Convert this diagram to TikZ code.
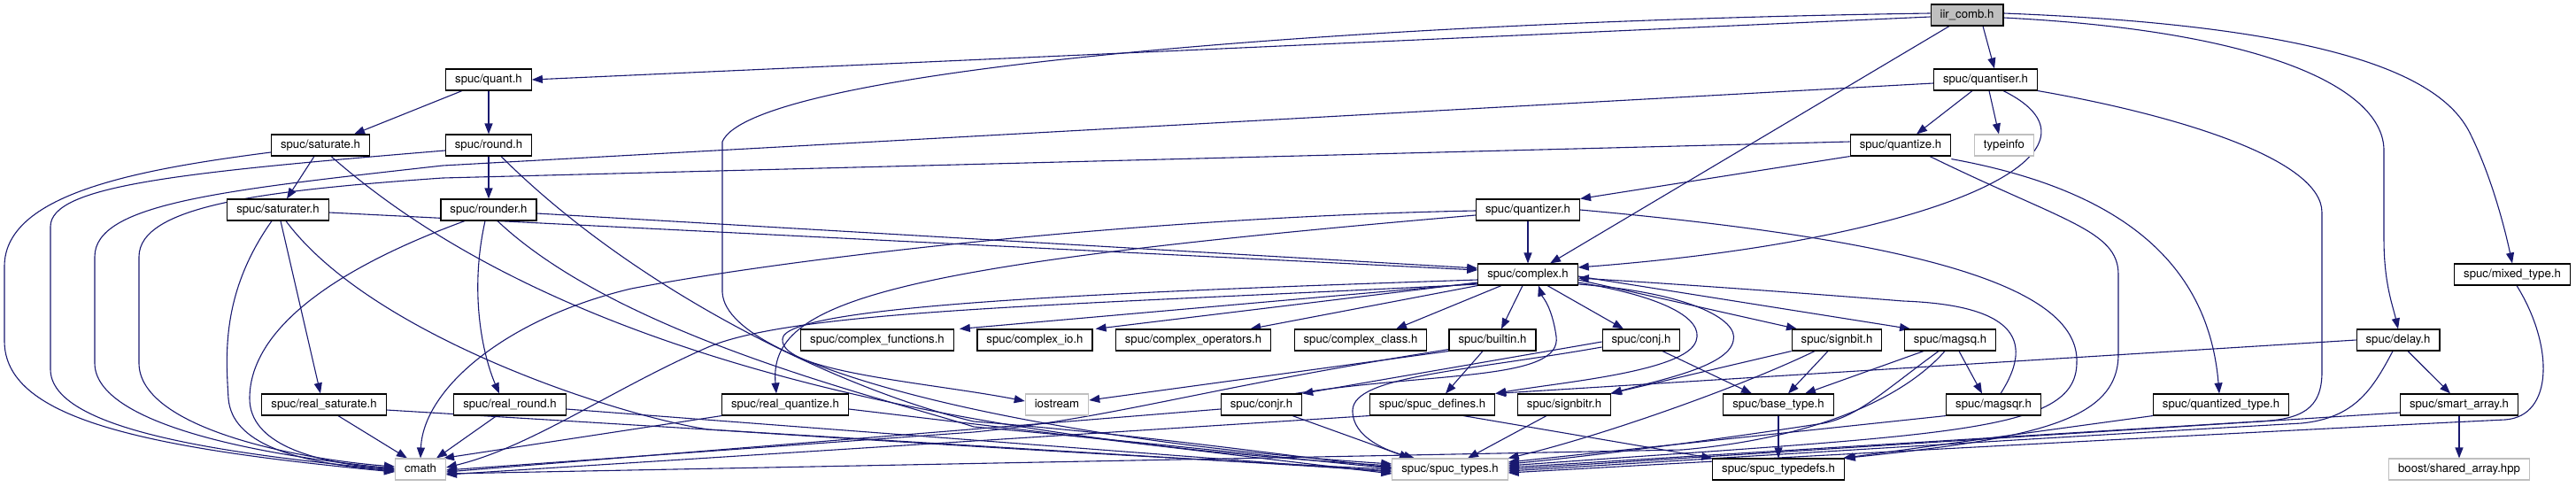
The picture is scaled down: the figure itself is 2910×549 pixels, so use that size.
\documentclass[tikz,border=0pt]{standalone}
\usepackage{fontspec}
\setmainfont{TeX Gyre Heros}
\usetikzlibrary{arrows.meta}
\definecolor{edgeblue}{HTML}{191970}
\definecolor{extgray}{HTML}{BFBFBF}
\definecolor{rootgray}{HTML}{BFBFBF}
\pgfdeclarelayer{edges}
\pgfsetlayers{edges,main}
\newcommand{\hdrfont}{\fontsize{13.2}{15}\selectfont}
\tikzset{
    hdr/.style={draw=black, line width=1.1pt, fill=white, font=\hdrfont,
      inner xsep=10.5pt, inner ysep=0pt, minimum height=24pt,
      text height=9.6pt, text depth=2.9pt},
    extern/.style={hdr, draw=extgray},
    root/.style={hdr, fill=rootgray},
    incl/.style={draw=edgeblue, line width=1.1pt, -{Triangle[length=12pt,width=9pt]}}
  }
\begin{document}
\begin{tikzpicture}[x=1pt,y=-1pt]
    \useasboundingbox (0,0) rectangle (2910,549);

    \node[root] (iir) at (2222,17) {iir\_comb.h};

    \node[hdr] (quant) at (552,90) {spuc/quant.h};
    \node[hdr] (quantiser) at (2243,90) {spuc/quantiser.h};

    \node[hdr] (saturate) at (362,164) {spuc/saturate.h};
    \node[hdr] (round) at (552,164) {spuc/round.h};
    \node[hdr] (quantize) at (2147,164) {spuc/quantize.h};
    \node[extern] (typeinfo) at (2264,164) {typeinfo};

    \node[hdr] (saturater) at (314,237) {spuc/saturater.h};
    \node[hdr] (rounder) at (552,237) {spuc/rounder.h};
    \node[hdr] (quantizer) at (1726,237) {spuc/quantizer.h};

    \node[hdr] (complex) at (1726,310) {spuc/complex.h};
    \node[hdr] (mixed) at (2838,310) {spuc/mixed\_type.h};

    \node[hdr] (cfunc) at (991,384) {spuc/complex\_functions.h};
    \node[hdr] (cio) at (1169,384) {spuc/complex\_io.h};
    \node[hdr] (cops) at (1348,384) {spuc/complex\_operators.h};
    \node[hdr] (cclass) at (1537,384) {spuc/complex\_class.h};
    \node[hdr] (builtin) at (1686,384) {spuc/builtin.h};
    \node[hdr] (conj) at (1854,384) {spuc/conj.h};
    \node[hdr] (signbit) at (2075,384) {spuc/signbit.h};
    \node[hdr] (magsq) at (2203,384) {spuc/magsq.h};
    \node[hdr] (delay) at (2709,384) {spuc/delay.h};

    \node[hdr] (realsat) at (366,457) {spuc/real\_saturate.h};
    \node[hdr] (realround) at (576,457) {spuc/real\_round.h};
    \node[hdr] (realquant) at (887,457) {spuc/real\_quantize.h};
    \node[extern] (iostream) at (1194,457) {iostream};
    \node[hdr] (conjr) at (1425,457) {spuc/conjr.h};
    \node[hdr] (defines) at (1618,457) {spuc/spuc\_defines.h};
    \node[hdr] (signbitr) at (1767,457) {spuc/signbitr.h};
    \node[hdr] (basetype) at (2009,457) {spuc/base\_type.h};
    \node[hdr] (magsqr) at (2252,457) {spuc/magsqr.h};
    \node[hdr] (qtype) at (2509,457) {spuc/quantized\_type.h};
    \node[hdr] (smart) at (2778,457) {spuc/smart\_array.h};

    \node[extern] (cmath) at (475,530) {cmath};
    \node[extern] (types) at (1638,530) {spuc/spuc\_types.h};
    \node[hdr] (typedefs) at (2009,530) {spuc/spuc\_typedefs.h};
    \node[extern] (boost) at (2778,530) {boost/shared\_array.hpp};

    \begin{pgfonlayer}{edges}
    \draw[incl] ([yshift=-2pt]iir.west) -- (quant.east);
    \draw[incl] ([yshift=2pt]iir.west) .. controls (1500,25) and (850,80) .. (816,160) -- (816,330) .. controls (820,420) and (1200,500) .. ([yshift=6pt]types.west);
    \draw[incl] ([xshift=-20pt]iir.south) -- ([xshift=25pt]complex.north);
    \draw[incl] ([xshift=18pt]iir.south) -- ([xshift=10pt]quantiser.north);
    \draw[incl] ([yshift=-3pt]iir.east) .. controls (2560,35) and (2693,100) .. (2693,170) -- (2693,270) .. controls (2693,320) and (2703,345) .. (delay.north);
    \draw[incl] ([yshift=2pt]iir.east) .. controls (2650,30) and (2760,90) .. (2790,150) .. controls (2815,200) and (2830,260) .. (mixed.north);

    \draw[incl] ([xshift=-30pt]quant.south) -- ([xshift=38pt]saturate.north);
    \draw[incl] (quant.south) -- (round.north);

    \draw[incl] ([yshift=-8pt]saturate.west) .. controls (150,192) and (5,220) .. (5,301) -- (5,385) .. controls (5,470) and (150,505) .. ([yshift=-3pt]cmath.west);
    \draw[incl] ([xshift=-7pt]saturate.south) -- ([xshift=10pt]saturater.north);
    \draw[incl] ([xshift=12pt]saturate.south) .. controls (560,340) and (900,485) .. ([yshift=4pt]types.west);

    \draw[incl] ([yshift=-6pt]round.west) .. controls (200,195) and (57,210) .. (57,256) -- (57,417) .. controls (57,485) and (250,512) .. ([yshift=-1pt]cmath.west);
    \draw[incl] (round.south) -- (rounder.north);
    \draw[incl] ([xshift=14pt]round.south) .. controls (720,330) and (950,440) .. (1100,476) .. controls (1300,492) and (1480,518) .. ([yshift=2pt]types.west);

    \draw[incl] ([yshift=-3pt]saturater.east) -- ([yshift=5pt]complex.west);
    \draw[incl] ([xshift=-7pt]saturater.south) .. controls (250,330) and (255,400) .. (258,450) .. controls (262,500) and (330,522) .. ([yshift=-2pt]cmath.west);
    \draw[incl] ([xshift=3pt]saturater.south) -- ([xshift=-4pt]realsat.north);
    \draw[incl] ([xshift=9pt]saturater.south) .. controls (420,380) and (700,470) .. (800,485) .. controls (1100,505) and (1400,522) .. ([yshift=0pt]types.west);

    \draw[incl] ([yshift=-4pt]rounder.east) -- ([yshift=7pt]complex.west);
    \draw[incl] ([xshift=-27pt]rounder.south) .. controls (360,310) and (282,380) .. (282,450) .. controls (282,500) and (350,522) .. ([yshift=0pt]cmath.west);
    \draw[incl] ([xshift=-4pt]rounder.south) .. controls (530,330) and (545,400) .. ([xshift=-12pt]realround.north);
    \draw[incl] ([xshift=10pt]rounder.south) .. controls (700,380) and (1000,450) .. (1100,482) .. controls (1300,500) and (1480,520) .. ([yshift=1pt]types.west);

    \draw[incl] ([xshift=16pt]realsat.south) -- ([xshift=-15pt]cmath.north);
    \draw[incl] ([yshift=-6pt]realsat.east) -- ([yshift=-2pt]types.west);
    \draw[incl] ([xshift=-15pt]realround.south) -- ([xshift=18pt]cmath.north);
    \draw[incl] ([yshift=-5pt]realround.east) -- ([yshift=-3pt]types.west);
    \draw[incl] (realquant.south west) -- ([xshift=-3pt]cmath.north east);
    \draw[incl] ([yshift=-5pt]realquant.east) -- ([yshift=-5pt]types.west);

    \draw[incl] ([xshift=-15pt]quantiser.south) -- ([xshift=18pt]quantize.north);
    \draw[incl] ([xshift=4pt]quantiser.south) -- ([xshift=-6pt]typeinfo.north);
    \draw[incl] ([xshift=20pt]quantiser.south) .. controls (2400,170) and (2200,270) .. ([yshift=8pt]complex.east);
    \draw[incl] ([yshift=-4pt]quantiser.west) -- (500,187) .. controls (250,215) and (107,230) .. (107,290) -- (107,410) .. controls (107,480) and (300,515) .. ([yshift=1pt]cmath.west);
    \draw[incl] (quantiser.south east) .. controls (2460,130) and (2623,180) .. (2623,240) -- (2623,420) .. controls (2623,462) and (2600,474) .. (2550,476) -- ([yshift=2pt]types.east);

    \draw[incl] (quantize.south west) -- (quantizer.north east);
    \draw[incl] ([yshift=4pt]quantize.west) -- (500,201) .. controls (300,215) and (157,232) .. (157,290) -- (157,410) .. controls (157,482) and (330,518) .. ([yshift=3pt]cmath.west);
    \draw[incl] ([yshift=-3pt]quantize.south east) .. controls (2400,215) and (2495,300) .. ([xshift=-2pt]qtype.north);
    \draw[incl] ([xshift=33pt]quantize.south) .. controls (2330,250) and (2393,260) .. (2393,310) -- (2393,400) .. controls (2393,475) and (2300,495) .. (typedefs.north east);

    \draw[incl] (quantizer.south) -- (complex.north);
    \draw[incl] ([yshift=-1pt]quantizer.west) .. controls (1300,245) and (900,290) .. (713,326) .. controls (570,360) and (478,440) .. (cmath.north);
    \draw[incl] ([yshift=-6pt]quantizer.west) .. controls (1000,300) and (868,340) .. ([xshift=-10pt]realquant.north);
    \draw[incl] (quantizer.east) .. controls (2150,270) and (2350,320) .. (2346,410) .. controls (2345,490) and (2200,490) .. ([yshift=4pt]types.east);

    \draw[incl] ([xshift=-30pt]complex.south) -- ([xshift=40pt]cclass.north);
    \draw[incl] ([xshift=-6pt]complex.south) -- ([xshift=10pt]builtin.north);
    \draw[incl] ([xshift=22pt]complex.south) -- ([xshift=-20pt]conj.north);
    \draw[incl] (complex.south west) -- ([xshift=-24pt]cops.north east);
    \draw[incl] ([yshift=-9pt]complex.west) -- ([xshift=3pt]cio.north east);
    \draw[incl] ([yshift=-10pt]complex.west) -- ([xshift=6pt]cfunc.north east);
    \draw[incl] ([yshift=-6pt]complex.west) .. controls (1250,330) and (884,345) .. (884,383) .. controls (880,420) and (1050,432) .. ([yshift=4pt]iostream.west);
    \draw[incl] ([yshift=-11pt]complex.west) .. controls (1200,345) and (900,350) .. (800,392) .. controls (690,440) and (600,505) .. ([yshift=2pt]cmath.east);
    \draw[incl] ([yshift=-6pt]complex.east) -- ([xshift=-45pt]signbit.north);
    \draw[incl] ([yshift=-2pt]complex.east) -- ([xshift=-45pt]magsq.north);
    \draw[incl] ([yshift=-9pt]complex.east) .. controls (1880,335) and (1925,360) .. (1916,385) .. controls (1905,420) and (1760,432) .. (defines.north east);
    \draw[incl] ([yshift=-11pt]complex.east) .. controls (1905,330) and (1965,360) .. (1958,385) .. controls (1952,415) and (1870,430) .. (signbitr.north east);

    \draw[incl] ([xshift=-11pt]builtin.south) -- ([xshift=15pt]defines.north);
    \draw[incl] (builtin.south west) -- ([yshift=5pt]iostream.east);
    \draw[incl] ([yshift=2pt]builtin.south west) .. controls (1350,440) and (1260,472) .. (1100,488) -- ([yshift=-1pt]cmath.east);

    \draw[incl] ([yshift=-2pt]conj.west) -- (conjr.north east);
    \draw[incl] ([yshift=-8pt]conj.west) .. controls (1650,420) and (1530,425) .. (1528,463) .. controls (1527,495) and (1570,510) .. ([xshift=-40pt]types.north);
    \draw[incl] ([xshift=24pt]conj.south) -- ([xshift=-30pt]basetype.north);

    \draw[incl] ([xshift=-8pt]conjr.north east) .. controls (1620,420) and (1765,430) .. (1758,380) .. controls (1753,345) and (1742,335) .. ([xshift=12pt]complex.south);
    \draw[incl] ([xshift=35pt]conjr.south) -- ([xshift=-45pt]types.north);
    \draw[incl] ([yshift=-5pt]conjr.west) -- ([yshift=-3pt]cmath.east);

    \draw[incl] ([xshift=-10pt]signbit.south) -- ([xshift=11pt]basetype.north);
    \draw[incl] (signbit.south west) -- ([xshift=-1pt]signbitr.north east);
    \draw[incl] ([xshift=-25pt]signbit.south) .. controls (1960,440) and (1800,495) .. (types.north east);
    \draw[incl] ([xshift=-20pt]signbitr.south) -- ([xshift=20pt]types.north);

    \draw[incl] ([xshift=-30pt]magsq.south) -- ([xshift=30pt]basetype.north);
    \draw[incl] ([xshift=10pt]magsq.south) -- ([xshift=-13pt]magsqr.north);
    \draw[incl] ([xshift=-13pt]magsq.south) .. controls (2130,440) and (2100,470) .. (2060,478) .. controls (1950,495) and (1800,515) .. ([yshift=6pt]types.east);
    \draw[incl] ([xshift=-6pt]magsq.south) .. controls (2150,450) and (2050,495) .. (1900,508) -- ([yshift=-5pt]cmath.east);

    \draw[incl] ([xshift=8pt]magsqr.north) .. controls (2295,390) and (2285,345) .. (2150,340) .. controls (2000,328) and (1850,318) .. ([yshift=-4pt]complex.east);
    \draw[incl] (magsqr.south west) -- ([yshift=8pt]types.east);

    \draw[incl] (basetype.south) -- (typedefs.north);
    \draw[incl] ([xshift=35pt]defines.south) -- (typedefs.north west);
    \draw[incl] (defines.south west) -- ([yshift=-6pt]cmath.east);
    \draw[incl] (qtype.south west) -- ([xshift=-2pt]typedefs.north east);

    \draw[incl] (delay.west) -- (defines.north east);
    \draw[incl] ([xshift=11pt]delay.south) -- ([xshift=-10pt]smart.north);
    \draw[incl] ([xshift=-6pt]delay.south) .. controls (2680,440) and (2660,472) .. (2600,478) .. controls (2300,495) and (1900,520) .. ([yshift=-2pt]types.east);

    \draw[incl] (smart.south) -- (boost.north);
    \draw[incl] ([yshift=-9pt]smart.west) -- (types.east);
    \draw[incl] ([xshift=5pt]mixed.south) .. controls (2885,390) and (2885,470) .. (2830,474) .. controls (2500,490) and (1950,520) .. ([yshift=-4pt]types.east);
    \end{pgfonlayer}
\end{tikzpicture}
\end{document}
